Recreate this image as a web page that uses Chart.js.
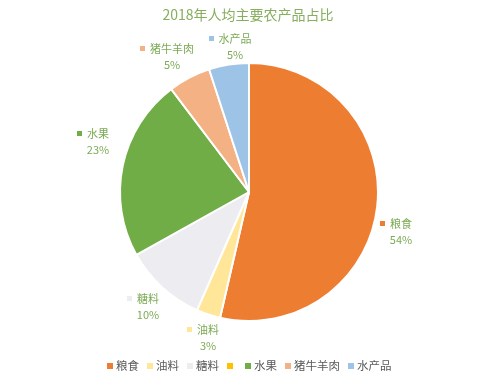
<!DOCTYPE html>
<html>
<head>
<meta charset="utf-8">
<script src="https://cdn.jsdelivr.net/npm/chart.js@4/dist/chart.umd.min.js"></script>
<style>
html,body{margin:0;padding:0;background:#fff;}
#wrap{width:494px;height:382px;position:relative;}
</style>
</head>
<body>
<div id="wrap"><canvas id="c" width="494" height="382"></canvas></div>
<script>
const title = '2018年人均主要农产品占比';
const categories = ['粮食', '油料', '糖料', '', '水果', '猪牛羊肉', '水产品'];
const values = [53.6, 3.0, 10.3, 0, 22.8, 5.3, 5.0];
const percentLabels = ['54%', '3%', '10%', '', '23%', '5%', '5%'];
const colors = ['#ED7D31', '#FFE699', '#EDEDF1', '#FFC000', '#70AD47', '#F4B183', '#9DC3E6'];

const FONT = '"Noto Sans CJK SC", "Noto Sans", sans-serif';
const labelColor = '#7BAA55';

// label anchor offsets relative to pie centre (text centre x, first line y)
const labelOffsets = [[152, 32], [-41, 138], [-101, 107], null, [-151, -58], [-77, -143], [-14, -153]];

const labelPlugin = {
  id: 'outLabels',
  afterDatasetsDraw(chart) {
    const ctx = chart.ctx;
    const meta = chart.getDatasetMeta(0);
    const arc0 = meta.data[0];
    const cx = arc0.x, cy = arc0.y;
    ctx.save();
    ctx.font = '11px ' + FONT;
    ctx.textBaseline = 'middle';
    ctx.textAlign = 'center';
    meta.data.forEach((arc, i) => {
      const off = labelOffsets[i];
      if (!off || !categories[i]) return;
      const tx = cx + off[0], ty = cy + off[1];
      const w = ctx.measureText(categories[i]).width;
      ctx.fillStyle = colors[i];
      ctx.fillRect(Math.round(tx - w / 2 - 10), Math.round(ty - 3), 5, 5);
      ctx.fillStyle = labelColor;
      ctx.fillText(categories[i], tx, ty);
      ctx.fillText(percentLabels[i], tx, ty + 16);
    });
    ctx.restore();
  }
};

const titleLegendPlugin = {
  id: 'titleLegend',
  afterDraw(chart) {
    const ctx = chart.ctx;
    ctx.save();
    ctx.font = '14px ' + FONT;
    ctx.fillStyle = '#86AE5E';
    ctx.textAlign = 'center';
    ctx.textBaseline = 'middle';
    ctx.fillText(title, chart.width / 2 + 1, 15);

    ctx.font = '11.5px ' + FONT;
    ctx.textAlign = 'left';
    const box = 6, gapText = 3, gapItem = 8, gapEmpty = 4;
    const widths = categories.map((c) => {
      const tw = c ? ctx.measureText(c).width : 0;
      return c ? box + gapText + tw : box + gapEmpty;
    });
    const total = widths.reduce((a, b) => a + b, 0) + gapItem * (categories.length - 1);
    let x = Math.round(chart.width / 2 + 2 - total / 2);
    const y = 366;
    categories.forEach((c, i) => {
      ctx.fillStyle = colors[i];
      ctx.fillRect(x, y - 3, box, box);
      if (c) {
        ctx.fillStyle = '#595959';
        ctx.fillText(c, x + box + gapText, y);
      }
      x += widths[i] + gapItem;
    });
    ctx.restore();
  }
};

new Chart(document.getElementById('c'), {
  type: 'pie',
  data: {
    labels: categories,
    datasets: [{
      data: values,
      backgroundColor: colors,
      borderColor: '#ffffff',
      borderWidth: 2
    }]
  },
  options: {
    responsive: false,
    animation: false,
    layout: { padding: { top: 62, bottom: 60, left: 119, right: 115 } },
    plugins: {
      legend: { display: false },
      title: { display: false },
      tooltip: { enabled: false }
    }
  },
  plugins: [labelPlugin, titleLegendPlugin]
});
</script>
</body>
</html>
